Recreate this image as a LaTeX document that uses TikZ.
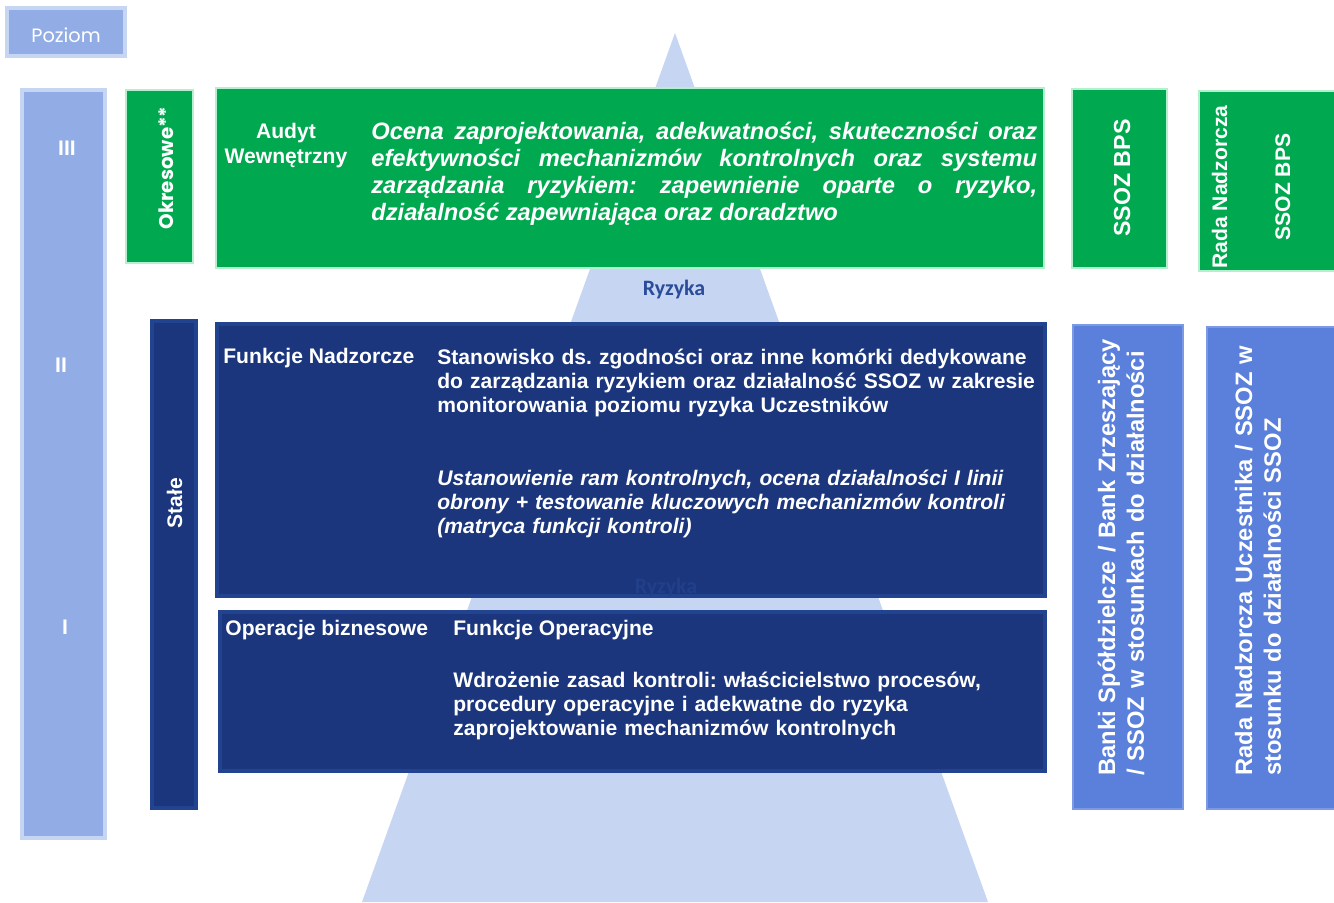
\documentclass[tikz,border=0pt]{standalone}
\usepackage{fontspec}
\setmainfont{Liberation Sans}
\newfontfamily\popfont{Poppins}
\newfontfamily\carlfont{Carlito}
\usetikzlibrary{fit,positioning}
\frenchspacing
\definecolor{pyrblue}{HTML}{C6D5F2}
\definecolor{lvlblue}{HTML}{92ADE5}
\definecolor{ssozgreen}{HTML}{00A94F}
\definecolor{mintedge}{HTML}{B4EFD0}
\definecolor{navy}{HTML}{1B367C}
\definecolor{navyedge}{HTML}{22438F}
\definecolor{sideblue}{HTML}{5B80DC}
\definecolor{riskblue}{HTML}{2B4C9B}
\definecolor{faintrisk}{HTML}{22408A}
\tikzset
{
    lvlbox/.style   = {rectangle, fill=lvlblue, draw=pyrblue, line width=2.8pt, inner sep=0pt},
    greenbox/.style = {rectangle, fill=ssozgreen, draw=mintedge, line width=1pt, inner sep=0pt},
    navybox/.style  = {rectangle, fill=navy, draw=navyedge, line width=2.8pt, inner sep=0pt},
    sidebox/.style  = {rectangle, fill=sideblue, draw=sideblue!80!white, line width=0.6pt, inner sep=0pt},
    boxtext/.style  = {text=white, inner sep=0pt, font=\bfseries\fontsize{12}{13.9}\selectfont},
    sidetext/.style = {text=white, inner sep=0pt, rotate=90, anchor=base west, text width=11cm, align=left,
                       font=\bfseries\fontsize{13.5}{16.4}\selectfont}
}

\begin{document}
\begin{tikzpicture}[x=0.02cm, y=-0.02cm]
\useasboundingbox (0,0) rectangle (1334,902);

% pyramid behind everything
\fill[pyrblue] (675,33) -- (362,902) -- (988,902) -- cycle;

% level column
\node (poz)     [lvlbox, fit={(7,8) (125,56)}]          {};
\node (pozt)    [text=white, font=\popfont\fontsize{11}{13}\selectfont] at (66,35) {Poziom};
\node (lvl)     [lvlbox, fit={(22,90) (105,838)}]       {};
\node (l3)      [boxtext] at (67,148)   {III};
\node (l2)      [boxtext] at (61,365)   {II};
\node (l1)      [boxtext] at (65,627)   {I};

% level III
\node (okr)     [greenbox, fit={(126,90) (193,263)}]    {};
\node (okrt)    [boxtext, rotate=90, anchor=base, font=\popfont\bfseries\fontsize{11.3}{14}\selectfont] at (173,168) {Okresowe**};
\node (aud)     [greenbox, fit={(216,88) (1044,268)}]   {};
\node (audt)    [boxtext, text width=3cm, align=center, anchor=base] at (286,139) {Audyt\\Wewnętrzny};
\node (audd)    [boxtext, text width=13.32cm, align=justify, anchor=base west,
                 font=\bfseries\itshape\fontsize{13.5}{15.3}\selectfont] at (371,140)
                {Ocena zaprojektowania, adekwatności, skuteczności oraz\linebreak
                 efektywności mechanizmów kontrolnych oraz systemu\linebreak
                 zarządzania ryzykiem: zapewnienie oparte o ryzyko,\linebreak
                 działalność zapewniająca oraz doradztwo};
\node (ss1)     [greenbox, fit={(1072,89) (1167,268)}]  {};
\node (ss1t)    [boxtext, rotate=90, anchor=base, font=\bfseries\fontsize{13.2}{15}\selectfont] at (1130,178) {SSOZ BPS};
\node (rn)      [greenbox, fit={(1199,91) (1340,271)}]  {};
\node (rnt)     [boxtext, rotate=90, anchor=base] at (1227,187) {Rada Nadzorcza};
\node (ss2t)    [boxtext, rotate=90, anchor=base] at (1290,187) {SSOZ BPS};

\node (ryz)     [text=riskblue, inner sep=0pt, anchor=base, font=\carlfont\bfseries\fontsize{12.5}{14}\selectfont] at (674,295) {Ryzyka};

% levels II and I
\node (sta)     [navybox, fit={(152,321) (196,808)}]    {};
\node (stat)    [boxtext, rotate=90, anchor=base] at (182,503) {Stałe};
\node (nad)     [navybox, fit={(217,324) (1045,596)}]   {};
\node (ryz2)    [text=faintrisk, inner sep=0pt, anchor=base, font=\carlfont\bfseries\fontsize{12.5}{14}\selectfont] at (666,593) {Ryzyka};
\node (nadt)    [boxtext, anchor=base west] at (223,363) {Funkcje Nadzorcze};
\node (nadd)    [boxtext, text width=12cm, align=left, anchor=base west] at (437,364)
                {Stanowisko ds. zgodności oraz inne komórki dedykowane\\
                 do zarządzania ryzykiem oraz działalność SSOZ w zakresie\\
                 monitorowania poziomu ryzyka Uczestników};
\node (nadi)    [boxtext, text width=12cm, align=left, anchor=base west,
                 font=\bfseries\itshape\fontsize{12}{13.9}\selectfont] at (437,485)
                {Ustanowienie ram kontrolnych, ocena działalności I linii\\
                 obrony + testowanie kluczowych mechanizmów kontroli\\
                 (matryca funkcji kontroli)};
\node (ope)     [navybox, fit={(220,612) (1045,771)}]   {};
\node (opet)    [boxtext, anchor=base west] at (225,635) {Operacje biznesowe};
\node (opef)    [boxtext, anchor=base west] at (453,635) {Funkcje Operacyjne};
\node (oped)    [boxtext, text width=12cm, align=left, anchor=base west] at (453,687)
                {Wdrożenie zasad kontroli: właścicielstwo procesów,\\
                 procedury operacyjne i adekwatne do ryzyka\\
                 zaprojektowanie mechanizmów kontrolnych};

% side boxes
\node (bs)      [sidebox, fit={(1073,325) (1183,809)}]  {};
\node (bst)     [sidetext] at (1115,776)
                {Banki Spółdzielcze / Bank Zrzeszający\\
                 / SSOZ w stosunkach do działalności};
\node (rnu)     [sidebox, fit={(1207,327) (1340,809)}]  {};
\node (rnut)    [sidetext] at (1252,776)
                {Rada Nadzorcza Uczestnika / SSOZ w\\
                 stosunku do działalności SSOZ};

\end{tikzpicture}
\end{document}
